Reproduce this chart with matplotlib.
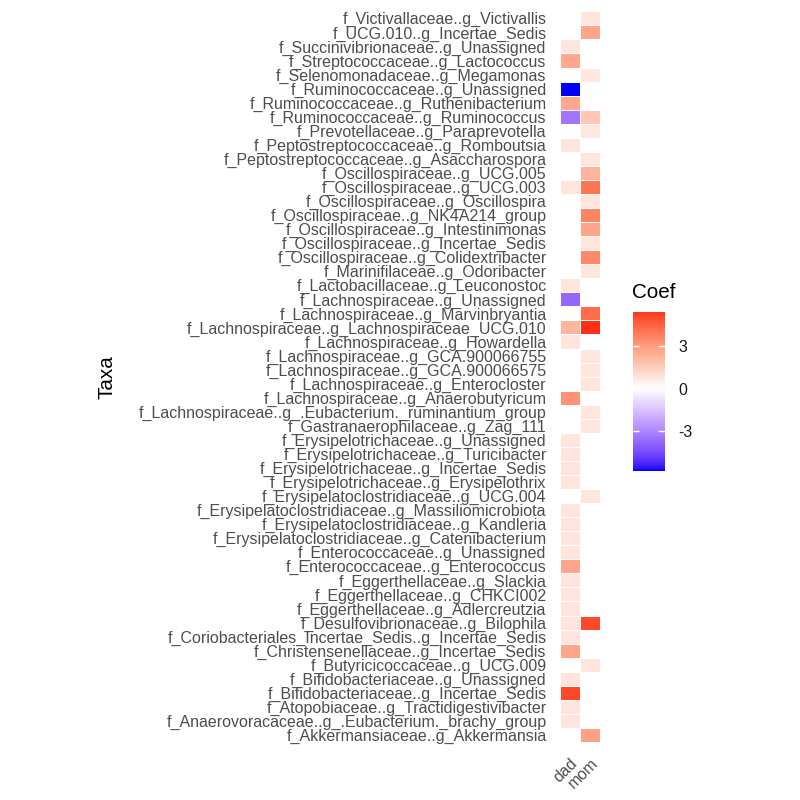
import numpy as np
import matplotlib
matplotlib.use("Agg")
import matplotlib.pyplot as plt
from matplotlib.colors import ListedColormap, Normalize

nan = np.nan

taxa = [
    "f_Victivallaceae..g_Victivallis",
    "f_UCG.010..g_Incertae_Sedis",
    "f_Succinivibrionaceae..g_Unassigned",
    "f_Streptococcaceae..g_Lactococcus",
    "f_Selenomonadaceae..g_Megamonas",
    "f_Ruminococcaceae..g_Unassigned",
    "f_Ruminococcaceae..g_Ruthenibacterium",
    "f_Ruminococcaceae..g_Ruminococcus",
    "f_Prevotellaceae..g_Paraprevotella",
    "f_Peptostreptococcaceae..g_Romboutsia",
    "f_Peptostreptococcaceae..g_Asaccharospora",
    "f_Oscillospiraceae..g_UCG.005",
    "f_Oscillospiraceae..g_UCG.003",
    "f_Oscillospiraceae..g_Oscillospira",
    "f_Oscillospiraceae..g_NK4A214_group",
    "f_Oscillospiraceae..g_Intestinimonas",
    "f_Oscillospiraceae..g_Incertae_Sedis",
    "f_Oscillospiraceae..g_Colidextribacter",
    "f_Marinifilaceae..g_Odoribacter",
    "f_Lactobacillaceae..g_Leuconostoc",
    "f_Lachnospiraceae..g_Unassigned",
    "f_Lachnospiraceae..g_Marvinbryantia",
    "f_Lachnospiraceae..g_Lachnospiraceae_UCG.010",
    "f_Lachnospiraceae..g_Howardella",
    "f_Lachnospiraceae..g_GCA.900066755",
    "f_Lachnospiraceae..g_GCA.900066575",
    "f_Lachnospiraceae..g_Enterocloster",
    "f_Lachnospiraceae..g_Anaerobutyricum",
    "f_Lachnospiraceae..g_.Eubacterium._ruminantium_group",
    "f_Gastranaerophilaceae..g_Zag_111",
    "f_Erysipelotrichaceae..g_Unassigned",
    "f_Erysipelotrichaceae..g_Turicibacter",
    "f_Erysipelotrichaceae..g_Incertae_Sedis",
    "f_Erysipelotrichaceae..g_Erysipelothrix",
    "f_Erysipelatoclostridiaceae..g_UCG.004",
    "f_Erysipelatoclostridiaceae..g_Massiliomicrobiota",
    "f_Erysipelatoclostridiaceae..g_Kandleria",
    "f_Erysipelatoclostridiaceae..g_Catenibacterium",
    "f_Enterococcaceae..g_Unassigned",
    "f_Enterococcaceae..g_Enterococcus",
    "f_Eggerthellaceae..g_Slackia",
    "f_Eggerthellaceae..g_CHKCI002",
    "f_Eggerthellaceae..g_Adlercreutzia",
    "f_Desulfovibrionaceae..g_Bilophila",
    "f_Coriobacteriales_Incertae_Sedis..g_Incertae_Sedis",
    "f_Christensenellaceae..g_Incertae_Sedis",
    "f_Butyricicoccaceae..g_UCG.009",
    "f_Bifidobacteriaceae..g_Unassigned",
    "f_Bifidobacteriaceae..g_Incertae_Sedis",
    "f_Atopobiaceae..g_Tractidigestivibacter",
    "f_Anaerovoracaceae..g_.Eubacterium._brachy_group",
    "f_Akkermansiaceae..g_Akkermansia",
]

dad = [nan, nan, 0.8, 2.6, nan, -5.8, 2.6, -3.4, nan, 0.8,
       nan, nan, 0.8, nan, nan, nan, nan, nan, nan, 0.8,
       -3.8, nan, 2.2, 0.8, nan, nan, nan, 3.2, nan, nan,
       0.8, 0.8, 0.8, 0.8, nan, 0.8, 0.8, 0.8, 0.8, 2.7,
       0.8, 0.8, 0.8, 0.8, 0.8, 2.7, nan, 0.8, 5.0, 0.8,
       0.8, nan]

mom = [0.8, 2.7, nan, nan, 0.7, nan, nan, 1.7, 0.7, nan,
       0.8, 2.3, 4.0, 0.8, 3.6, 2.7, 0.8, 3.5, 0.8, nan,
       nan, 4.2, 5.4, nan, 0.8, 0.8, 0.8, nan, 0.8, 0.8,
       nan, nan, nan, nan, 0.8, nan, nan, nan, nan, nan,
       nan, nan, nan, 5.0, nan, nan, 0.8, nan, nan, nan,
       nan, 2.8]

groups = ["dad", "mom"]


# --- Lab interpolation like ggplot's scale_fill_gradient2 ---
WHITE = np.array([0.95047, 1.0, 1.08883])
M = np.array([[0.4124, 0.3576, 0.1805],
              [0.2126, 0.7152, 0.0722],
              [0.0193, 0.1192, 0.9505]])


def rgb_to_lab(rgb):
    c = np.asarray(rgb, float)
    lin = np.where(c <= 0.04045, c / 12.92, ((c + 0.055) / 1.055) ** 2.4)
    xyz = M @ lin / WHITE
    f = np.where(xyz > 0.008856, np.cbrt(xyz), 7.787 * xyz + 16 / 116)
    return np.array([116 * f[1] - 16, 500 * (f[0] - f[1]), 200 * (f[1] - f[2])])


def lab_to_rgb(lab):
    L, a, b = lab
    fy = (L + 16) / 116
    fx = fy + a / 500
    fz = fy - b / 200
    f = np.array([fx, fy, fz])
    xyz = np.where(f ** 3 > 0.008856, f ** 3, (f - 16 / 116) / 7.787) * WHITE
    lin = np.linalg.solve(M, xyz)
    lin = np.clip(lin, 0, 1)
    c = np.where(lin <= 0.0031308, 12.92 * lin, 1.055 * lin ** (1 / 2.4) - 0.055)
    return np.clip(c, 0, 1)


low, mid, high = rgb_to_lab([0, 0, 1]), rgb_to_lab([1, 1, 1]), rgb_to_lab([1, 0, 0])
colors = []
for t in np.linspace(0, 1, 256):
    if t < 0.5:
        lab = low + (mid - low) * (t / 0.5)
    else:
        lab = mid + (high - mid) * ((t - 0.5) / 0.5)
    colors.append(lab_to_rgb(lab))
cmap = ListedColormap(colors)

values = np.array([dad, mom], float).T
lo, hi = np.nanmin(values), np.nanmax(values)
vlim = max(abs(lo), abs(hi))
norm = Normalize(-vlim, vlim)

plt.rcParams["font.family"] = ["Liberation Sans", "DejaVu Sans"]
fs = 11.5

fig = plt.figure(figsize=(8, 8), dpi=100)
n = len(taxa)
ax = fig.add_axes([548 / 800, 1 - 750.4 / 800, 64 / 800, 747.5 / 800])
ax.pcolormesh(np.arange(len(groups) + 1) - 0.5, np.arange(n + 1) - 0.5,
              np.ma.masked_invalid(values), cmap=cmap, norm=norm,
              edgecolors="white", linewidth=0.7)
ax.set_xlim(-1.1, len(groups) + 0.1)
ax.set_ylim(n - 0.5 + 0.6, -0.5 - 0.6)
ax.set_yticks(np.arange(n))
ax.set_yticklabels(taxa, fontsize=fs, color="#4D4D4D")
ax.set_xticks(np.arange(len(groups)))
ax.set_xticklabels(groups, fontsize=fs, color="#4D4D4D", rotation=45,
                   ha="right", va="top", rotation_mode="anchor")
ax.tick_params(axis="y", length=0, pad=1)
ax.tick_params(axis="x", length=0, pad=4)
for s in ax.spines.values():
    s.set_visible(False)
fig.text(107 / 800, 1 - 377 / 800, "Taxa", fontsize=14.9, rotation=90,
         ha="center", va="center")

# colour bar
cax = fig.add_axes([632.5 / 800, 1 - 471 / 800, 32 / 800, 159.3 / 800])
grad = np.linspace(lo, hi, 300)
cax.imshow(grad[:, None], extent=[0, 1, lo, hi], origin="lower", aspect="auto",
           cmap=cmap, norm=norm)
cax.set_xlim(0, 1)
cax.set_ylim(lo, hi)
cbar_ticks = [-3, 0, 3]
cax.hlines(cbar_ticks, 0, 0.2, color="white", lw=1)
cax.hlines(cbar_ticks, 0.8, 1, color="white", lw=1)
cax.set_xticks([])
cax.yaxis.tick_right()
cax.set_yticks(cbar_ticks)
cax.set_yticklabels([str(t) for t in cbar_ticks], fontsize=fs, color="#1A1A1A")
cax.tick_params(length=0, pad=10)
for s in cax.spines.values():
    s.set_visible(False)
fig.text(632 / 800, 1 - 298 / 800, "Coef", fontsize=14.9, ha="left", va="baseline")

fig.savefig("out.png", dpi=100)
